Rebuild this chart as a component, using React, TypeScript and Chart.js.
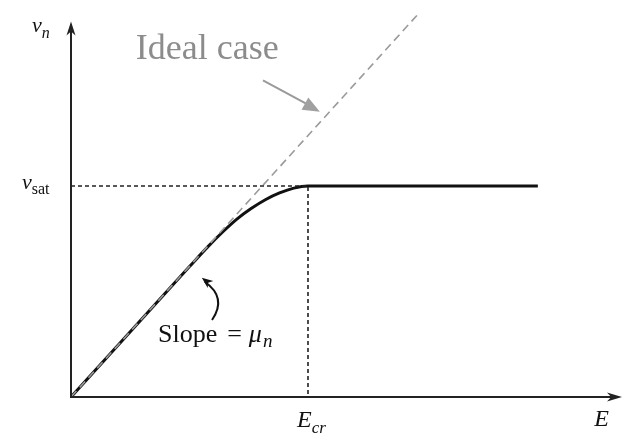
import React, { useEffect, useRef } from "react";
import { Chart, registerables } from "chart.js";

Chart.register(...registerables);

// ---- data (E in units of E_cr, v in units of v_sat) ----
const curveE = [0, 0.25, 0.5, 0.58, 0.64, 0.7, 0.76, 0.82, 0.88, 0.94, 1.0, 1.4, 1.97];
const curveV = [0, 0.309, 0.618, 0.715, 0.782, 0.843, 0.893, 0.935, 0.967, 0.99, 1.0, 1.0, 1.0];
const idealE = [0, 1.473];
const idealV = [0, 1.825];
const satGuideE = [0, 1, 1];
const satGuideV = [1, 1, 0];
const X_MAX = 2.325;
const Y_MAX = 1.834;
const Y_AXIS_TOP = 1.78;

const toPts = (xs: number[], ys: number[]) => xs.map((x, i) => ({ x, y: ys[i] }));

type Seg = { t: string; font: string; dy?: number; gap?: number };

function drawRich(ctx: CanvasRenderingContext2D, segs: Seg[], x: number, y: number, color: string) {
  ctx.save();
  ctx.fillStyle = color;
  ctx.textBaseline = "alphabetic";
  ctx.textAlign = "left";
  let cx = x;
  for (const s of segs) {
    ctx.font = s.font;
    cx += s.gap || 0;
    ctx.fillText(s.t, cx, y + (s.dy || 0));
    cx += ctx.measureText(s.t).width;
  }
  ctx.restore();
}

function arrowHead(ctx: CanvasRenderingContext2D, tx: number, ty: number, ang: number, len: number, half: number, color: string) {
  ctx.save();
  ctx.translate(tx, ty);
  ctx.rotate(ang);
  ctx.fillStyle = color;
  ctx.beginPath();
  ctx.moveTo(0, 0);
  ctx.lineTo(-len, -half);
  ctx.lineTo(-len * 0.72, 0);
  ctx.lineTo(-len, half);
  ctx.closePath();
  ctx.fill();
  ctx.restore();
}

const SERIF = '"Liberation Serif", "Times New Roman", serif';

const annotPlugin = {
  id: "annot",
  afterDatasetsDraw(chart: any) {
    const ctx: CanvasRenderingContext2D = chart.ctx;
    const xs = chart.scales.x;
    const ys = chart.scales.y;
    const px = (v: number) => xs.getPixelForValue(v);
    const py = (v: number) => ys.getPixelForValue(v);
    const axisColor = "#222";

    // axes
    ctx.save();
    ctx.strokeStyle = axisColor;
    ctx.lineWidth = 2;
    ctx.beginPath();
    ctx.moveTo(px(0), py(0));
    ctx.lineTo(px(0), py(Y_AXIS_TOP) + 6);
    ctx.moveTo(px(0) - 1, py(0));
    ctx.lineTo(px(X_MAX) - 6, py(0));
    ctx.stroke();
    ctx.restore();
    arrowHead(ctx, px(0), py(Y_AXIS_TOP), -Math.PI / 2, 14, 4.5, axisColor);
    arrowHead(ctx, px(X_MAX), py(0), 0, 15, 4.5, axisColor);

    // axis labels
    drawRich(ctx, [
      { t: "v", font: `italic 22px ${SERIF}` },
      { t: "n", font: `italic 16px ${SERIF}`, dy: 6 },
    ], px(0) - 39, py(Y_AXIS_TOP) + 11, "#111");
    drawRich(ctx, [
      { t: "v", font: `italic 22px ${SERIF}` },
      { t: "sat", font: `16px ${SERIF}`, dy: 5 },
    ], px(0) - 49, py(1) + 3, "#111");
    drawRich(ctx, [
      { t: "E", font: `italic 24px ${SERIF}` },
      { t: "cr", font: `italic 17px ${SERIF}`, dy: 6 },
    ], px(1) - 11, py(0) + 30, "#111");
    drawRich(ctx, [{ t: "E", font: `italic 24px ${SERIF}` }], px(2.208), py(0) + 29, "#111");

    // Slope label
    drawRich(ctx, [
      { t: "Slope", font: `26px ${SERIF}` },
      { t: "=", font: `26px ${SERIF}`, gap: 10 },
      { t: "\u03bc", font: `italic 26px ${SERIF}`, gap: 7 },
      { t: "n", font: `italic 19px ${SERIF}`, dy: 5, gap: 1 },
    ], px(0.367), py(0.26), "#111");

    // curved arrow to the slope
    const sx = px(0.595), sy = py(0.365);
    const cx1 = px(0.66), cy1 = py(0.47);
    const tx = px(0.552), ty = py(0.565);
    ctx.save();
    ctx.strokeStyle = "#111";
    ctx.lineWidth = 2;
    ctx.beginPath();
    ctx.moveTo(sx, sy);
    ctx.quadraticCurveTo(cx1, cy1, tx + 3, ty + 4);
    ctx.stroke();
    ctx.restore();
    const ang = Math.atan2(ty - cy1, tx - cx1);
    arrowHead(ctx, tx, ty, ang, 11, 4.5, "#111");

    // Ideal case annotation
    ctx.save();
    ctx.fillStyle = "#8c8c8c";
    ctx.font = `36px ${SERIF}`;
    ctx.textAlign = "center";
    ctx.textBaseline = "alphabetic";
    ctx.fillText("Ideal case", px(0.575), py(1.6));
    ctx.restore();
    const ax0 = px(0.81), ay0 = py(1.5);
    const ax1 = px(1.05), ay1 = py(1.352);
    ctx.save();
    ctx.strokeStyle = "#9a9a9a";
    ctx.lineWidth = 2;
    ctx.beginPath();
    ctx.moveTo(ax0, ay0);
    ctx.lineTo(ax1 - 10, ay1 - 6);
    ctx.stroke();
    ctx.restore();
    const ia = Math.atan2(ay1 - ay0, ax1 - ax0);
    ctx.save();
    ctx.translate(ax1, ay1);
    ctx.rotate(ia);
    ctx.fillStyle = "#a0a0a0";
    ctx.beginPath();
    ctx.moveTo(0, 0);
    ctx.lineTo(-17, -7);
    ctx.lineTo(-17, 7);
    ctx.closePath();
    ctx.fill();
    ctx.restore();
  },
};

export default function App() {
  const ref = useRef<HTMLCanvasElement>(null);
  useEffect(() => {
    document.body.style.margin = "0";
    const canvas = ref.current!;
    const chart = new Chart(canvas, {
      type: "line",
      data: {
        datasets: [
          {
            label: "guides",
            data: toPts(satGuideE, satGuideV),
            borderColor: "#222",
            borderWidth: 1.6,
            borderDash: [4, 3],
            pointRadius: 0,
            tension: 0,
          },
          {
            label: "Ideal case",
            data: toPts(idealE, idealV),
            borderColor: "#9a9a9a",
            borderWidth: 1.6,
            borderDash: [8, 5],
            pointRadius: 0,
            tension: 0,
          },
          {
            label: "v_n",
            data: toPts(curveE, curveV),
            borderColor: "#111",
            borderWidth: 3,
            pointRadius: 0,
            cubicInterpolationMode: "monotone",
          },
        ],
      },
      options: {
        responsive: false,
        animation: false,
        layout: { padding: { left: 71, right: 9, top: 10, bottom: 36 } },
        plugins: { legend: { display: false }, tooltip: { enabled: false } },
        scales: {
          x: { type: "linear", min: 0, max: X_MAX, display: false },
          y: { type: "linear", min: 0, max: Y_MAX, display: false },
        },
      },
      plugins: [annotPlugin],
    } as any);
    return () => chart.destroy();
  }, []);
  return (
    <div style={{ width: 631, height: 433, background: "#fff" }}>
      <canvas ref={ref} width={631} height={433} style={{ display: "block" }} />
    </div>
  );
}
